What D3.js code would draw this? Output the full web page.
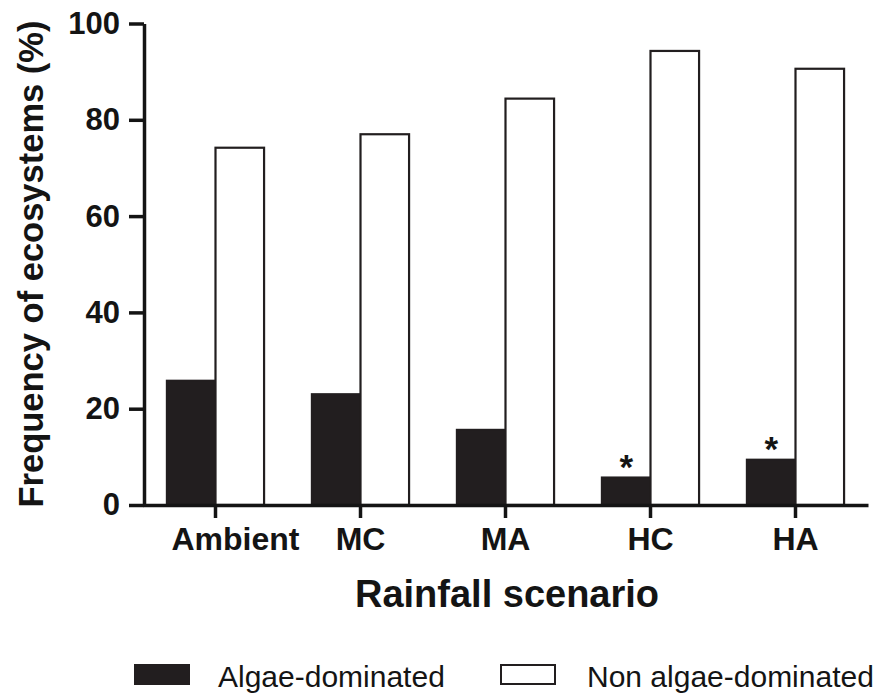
<!DOCTYPE html>
<html>
<head>
<meta charset="utf-8">
<script src="https://cdn.jsdelivr.net/npm/d3@7"></script>
<style>
	body { margin: 0; background: #fff; }
	svg text { font-family: "Liberation Sans", Arial, sans-serif; fill: #141414; }
	.axis path, .axis line { stroke: #141414; stroke-width: 3.5px; }
	.axis text { font-size: 31px; font-weight: bold; }
</style>
</head>
<body>
<div id="container"></div>
<script>
// data
var scenarios = ["Ambient", "MC", "MA", "HC", "HA"];
var algae = [25.8, 23.0, 15.6, 5.7, 9.4];
var nonAlgae = [74.2, 77.0, 84.4, 94.3, 90.6];
var significant = ["HC", "HA"];
var yTicks = [0, 20, 40, 60, 80, 100];
var seriesNames = ["Algae-dominated", "Non algae-dominated"];

var width = 884, height = 694;
var dark = "#221e1f";

var rows = scenarios.map(function(s, i) {
	return {scenario: s, values: [algae[i], nonAlgae[i]]};
});

var svg = d3.select("#container").append("svg")
	.attr("width", width)
	.attr("height", height);

var x0 = d3.scaleBand()
	.domain(scenarios)
	.range([143, 868])
	.paddingInner(0.33)
	.paddingOuter(0.165);

var x1 = d3.scaleBand()
	.domain([0, 1])
	.range([0, x0.bandwidth()]);

var y = d3.scaleLinear().domain([0, 100]).range([505, 23.5]);

// bars
var groups = svg.append("g").selectAll("g")
	.data(rows)
	.enter().append("g")
	.attr("transform", function(d) { return "translate(" + x0(d.scenario) + ",0)"; });

groups.selectAll("rect")
	.data(function(d) { return d.values.map(function(v, k) { return {k: k, v: v}; }); })
	.enter().append("rect")
	.attr("x", function(d) { return x1(d.k); })
	.attr("y", function(d) { return y(d.v); })
	.attr("width", x1.bandwidth())
	.attr("height", function(d) { return y(0) - y(d.v); })
	.attr("fill", function(d) { return d.k ? "#fff" : dark; })
	.attr("stroke", dark)
	.attr("stroke-width", 2.2);

// significance stars over the algae bars
svg.append("g").selectAll("text")
	.data(rows.filter(function(d) { return significant.indexOf(d.scenario) >= 0; }))
	.enter().append("text")
	.attr("x", function(d) { return x0(d.scenario) + x1(0) + x1.bandwidth() / 2; })
	.attr("y", function(d) { return y(d.values[0]) + 1; })
	.attr("text-anchor", "middle")
	.style("font-size", "35px")
	.style("font-weight", "bold")
	.text("*");

// axes
var yAxis = d3.axisLeft(y)
	.tickValues(yTicks)
	.tickSize(15)
	.tickSizeOuter(0)
	.tickPadding(9);

svg.append("g")
	.attr("class", "y axis")
	.attr("transform", "translate(144,0)")
	.call(yAxis);

var xAxis = d3.axisBottom(x0)
	.tickSize(13)
	.tickSizeOuter(0)
	.tickPadding(9);

var gx = svg.append("g")
	.attr("class", "x axis")
	.attr("transform", "translate(0,505)")
	.call(xAxis);

gx.selectAll(".tick text")
	.style("font-size", "32px")
	.attr("dx", function(d, i) { return i === 0 ? 20 : 0; });

// axis titles
svg.append("text")
	.attr("transform", "translate(43,264) rotate(-90)")
	.attr("text-anchor", "middle")
	.style("font-size", "34.5px")
	.style("font-weight", "bold")
	.text("Frequency of ecosystems (%)");

svg.append("text")
	.attr("x", 507)
	.attr("y", 607)
	.attr("text-anchor", "middle")
	.style("font-size", "38px")
	.style("font-weight", "bold")
	.text("Rainfall scenario");

// legend
var legendX = [135, 501];
var legend = svg.append("g").selectAll("g")
	.data(seriesNames)
	.enter().append("g")
	.attr("transform", function(d, i) { return "translate(" + legendX[i] + ",0)"; });

legend.append("rect")
	.attr("x", 0)
	.attr("y", 665)
	.attr("width", 54)
	.attr("height", 19)
	.attr("fill", function(d, i) { return i ? "#fff" : dark; })
	.attr("stroke", dark)
	.attr("stroke-width", 2);

legend.append("text")
	.attr("x", function(d, i) { return i ? 86 : 83; })
	.attr("y", 687)
	.style("font-size", "30px")
	.text(function(d) { return d; });
</script>
</body>
</html>
